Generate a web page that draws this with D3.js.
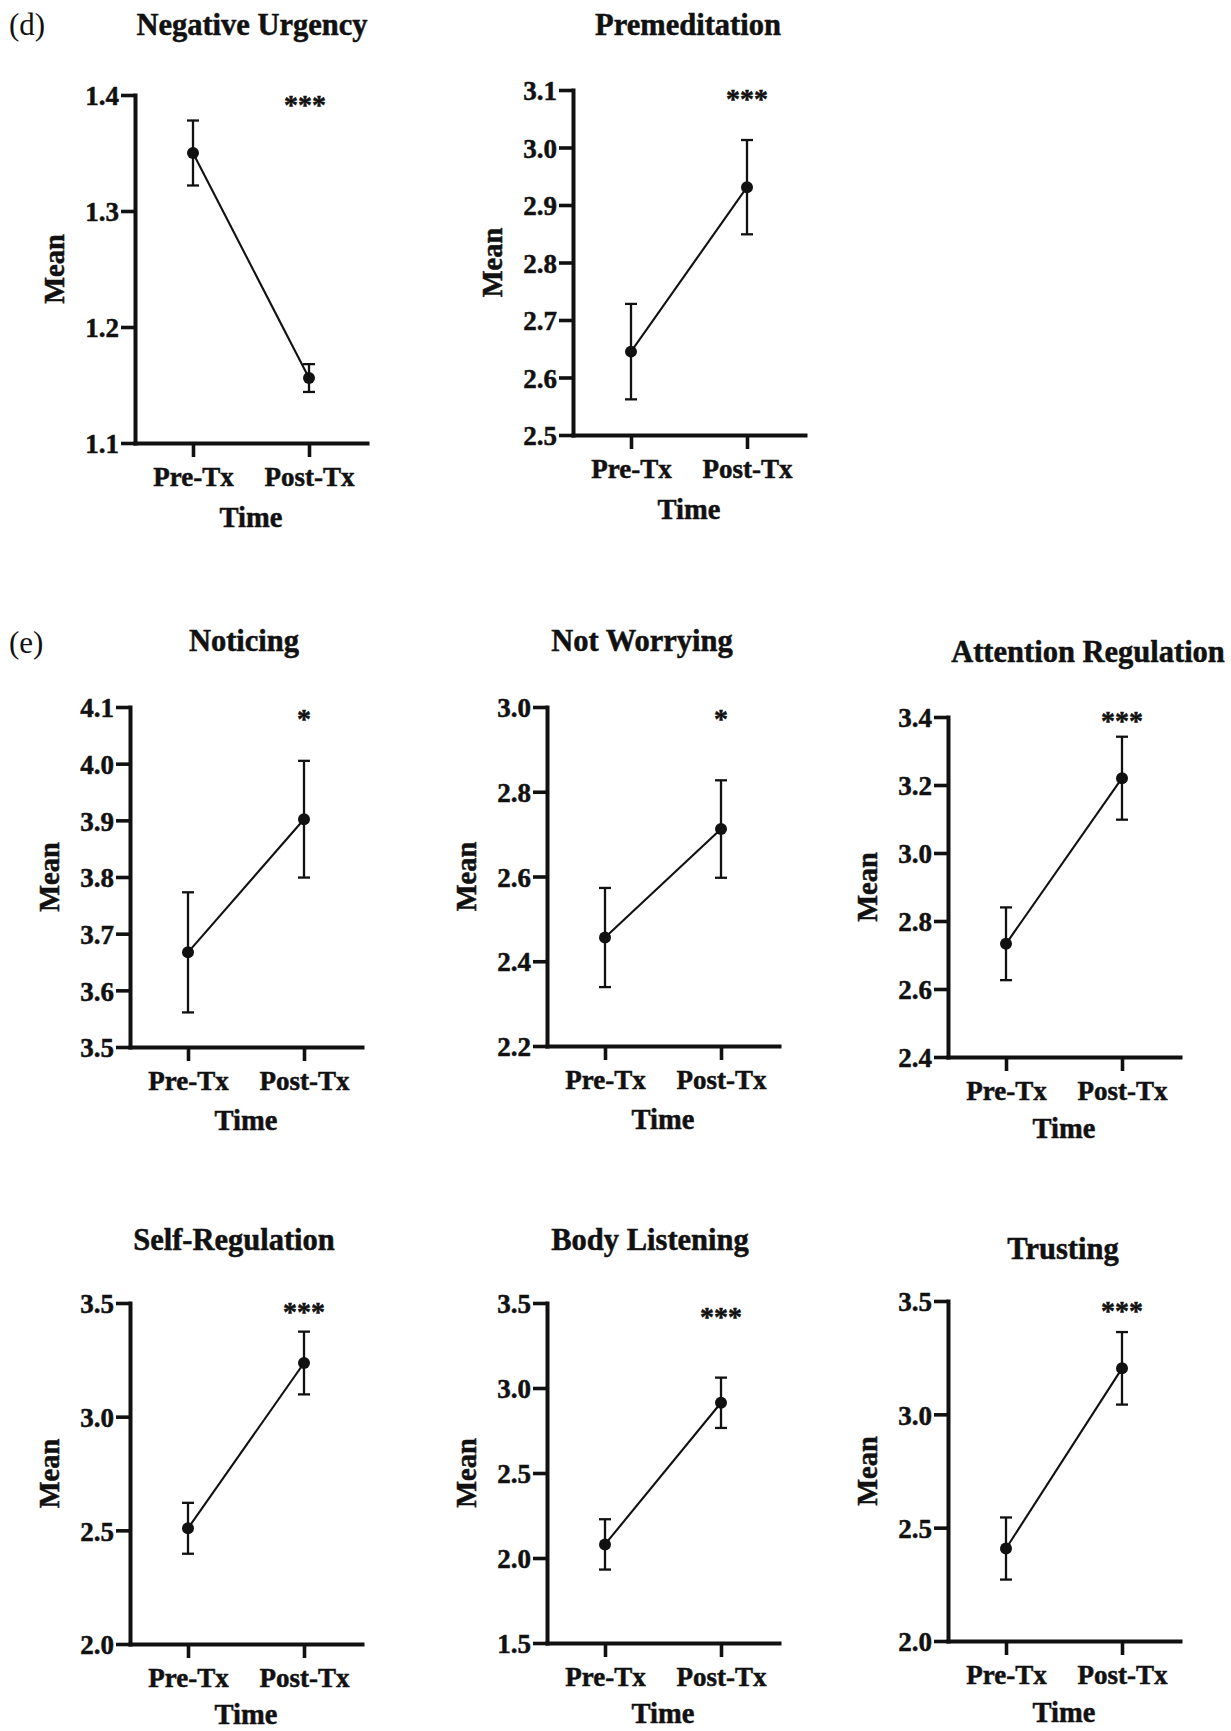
<!DOCTYPE html>
<html>
<head>
<meta charset="utf-8">
<script src="https://cdn.jsdelivr.net/npm/d3@7"></script>
<style>
  html, body { margin: 0; padding: 0; background: #fff; }
  svg { display: block; }
  text { font-family: "Liberation Serif", "Times New Roman", serif; fill: #111; }
  .heavy { stroke: #111; stroke-width: 0.5px; }
</style>
</head>
<body>
<svg id="chart" width="1231" height="1731"></svg>
<script>
// ---------- data ----------
const titles = ["Negative Urgency", "Premeditation", "Noticing", "Not Worrying",
                "Attention Regulation", "Self-Regulation", "Body Listening", "Trusting"];
const timeLabels = ["Pre-Tx", "Post-Tx"];
const preMean  = [1.350, 2.645, 3.667, 2.456, 2.733, 2.509, 2.080, 2.408];
const preErr   = [0.028, 0.083, 0.106, 0.117, 0.107, 0.112, 0.148, 0.137];
const postMean = [1.156, 2.931, 3.902, 2.712, 3.220, 3.236, 2.913, 3.203];
const postErr  = [0.012, 0.082, 0.103, 0.115, 0.122, 0.138, 0.148, 0.160];
const yMin     = [1.1, 2.5, 3.5, 2.2, 2.4, 2.0, 1.5, 2.0];
const yMax     = [1.4, 3.1, 4.1, 3.0, 3.4, 3.5, 3.5, 3.5];
const yStep    = [0.1, 0.1, 0.1, 0.2, 0.2, 0.5, 0.5, 0.5];
const signif   = ["***", "***", "*", "*", "***", "***", "***", "***"];
const panelTags = [{ text: "(d)", panel: 0 }, { text: "(e)", panel: 2 }];

// ---------- layout ----------
const axisX  = [135, 573, 130, 547, 948, 130, 547, 948];
const plotTop = [95, 90, 707, 707, 717, 1303, 1303, 1301];
const plotBot = [443, 435, 1047, 1046, 1057, 1644, 1643, 1641];
const titleX = [252, 688, 244, 642, 1088, 234, 650, 1063];
const titleY = [24, 24, 640, 640, 651, 1239, 1239, 1248];
const timeDy = [75, 75, 74, 74, 72, 71, 71, 72];
const starDx = [-4, 0, 0, 0, 0, 0, 0, 0];
const starDy = [6, 5, 8, 8, 0, 5, 10, 6];
const tagPos = [{ x: 9, y: 24 }, { x: 9, y: 642 }];
const plotW = 232;

const svg = d3.select("#chart");
const serif = '"Liberation Serif", "Times New Roman", serif';

titles.forEach((t, i) => {
  const g = svg.append("g");
  const x = d3.scalePoint().domain(timeLabels).range([axisX[i], axisX[i] + plotW]).padding(0.5);
  const y = d3.scaleLinear().domain([yMin[i], yMax[i]]).range([plotBot[i], plotTop[i]]);
  const n = Math.round((yMax[i] - yMin[i]) / yStep[i]);
  const ticks = d3.range(n + 1).map(k => +(yMin[i] + k * yStep[i]).toFixed(2));

  // y axis
  const ya = g.append("g").attr("transform", `translate(${axisX[i]},0)`)
    .call(d3.axisLeft(y).tickValues(ticks).tickFormat(d3.format(".1f")).tickSize(14).tickSizeOuter(0).tickPadding(2));
  // x axis
  const xa = g.append("g").attr("transform", `translate(0,${plotBot[i]})`)
    .call(d3.axisBottom(x).tickSize(14).tickSizeOuter(0).tickPadding(5));

  [ya, xa].forEach(a => {
    a.selectAll("path.domain").attr("stroke", "#111").attr("stroke-width", 4).attr("stroke-linecap", "square");
    a.selectAll(".tick line").attr("stroke", "#111").attr("stroke-width", 3.6);
    a.selectAll(".tick text").attr("fill", "#111").attr("class", "heavy")
      .style("font-family", serif)
      .style("font-weight", "bold").style("font-size", "27px");
  });
  ya.selectAll(".tick text").attr("dy", "0.36em");
  xa.selectAll(".tick text").attr("dy", "0.9em");

  // connecting line
  const pts = [
    { t: timeLabels[0], m: preMean[i], e: preErr[i] },
    { t: timeLabels[1], m: postMean[i], e: postErr[i] }
  ];
  g.append("path")
    .attr("d", d3.line().x(d => x(d.t)).y(d => y(d.m))(pts))
    .attr("fill", "none").attr("stroke", "#111").attr("stroke-width", 2.1);

  // error bars
  const capW = 6;
  pts.forEach(d => {
    const cx = x(d.t);
    g.append("line").attr("x1", cx).attr("x2", cx).attr("y1", y(d.m - d.e)).attr("y2", y(d.m + d.e))
      .attr("stroke", "#111").attr("stroke-width", 2.3);
    [d.m - d.e, d.m + d.e].forEach(v => {
      g.append("line").attr("x1", cx - capW).attr("x2", cx + capW).attr("y1", y(v)).attr("y2", y(v))
        .attr("stroke", "#111").attr("stroke-width", 2.3);
    });
    g.append("circle").attr("cx", cx).attr("cy", y(d.m)).attr("r", 6).attr("fill", "#111");
  });

  // significance stars
  g.append("text").attr("class", "heavy")
    .attr("x", x(timeLabels[1]) + starDx[i]).attr("y", plotTop[i] + starDy[i] + 13)
    .attr("text-anchor", "middle").style("font-weight", "bold").style("font-size", "28px")
    .text(signif[i]);

  // title
  g.append("text").attr("class", "heavy").attr("x", titleX[i]).attr("y", titleY[i]).attr("dy", "0.35em")
    .attr("text-anchor", "middle").style("font-weight", "bold").style("font-size", "30.5px").text(t);

  // y title
  const midY = (plotTop[i] + plotBot[i]) / 2;
  g.append("text").attr("class", "heavy").attr("transform", `translate(${axisX[i] - 81},${midY}) rotate(-90)`)
    .attr("dy", "0.35em").attr("text-anchor", "middle")
    .style("font-weight", "bold").style("font-size", "28.5px").text("Mean");

  // x title
  g.append("text").attr("class", "heavy").attr("x", axisX[i] + plotW / 2).attr("y", plotBot[i] + timeDy[i]).attr("dy", "0.33em")
    .attr("text-anchor", "middle").style("font-weight", "bold").style("font-size", "28.5px").text("Time");
});

panelTags.forEach((p, k) => {
  svg.append("text").attr("x", tagPos[k].x).attr("y", tagPos[k].y).attr("dy", "0.35em")
    .style("font-size", "31px").text(p.text);
});
</script>
</body>
</html>
